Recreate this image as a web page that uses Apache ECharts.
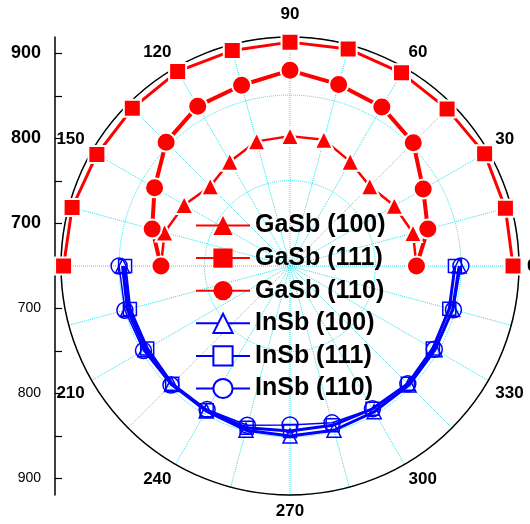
<!DOCTYPE html>
<html>
<head>
<meta charset="UTF-8">
<title>polar</title>
<script src="https://cdn.jsdelivr.net/npm/echarts@6/dist/echarts.min.js"></script>
<style>
	html, body { margin: 0; padding: 0; background: #fff; }
	#chart { width: 530px; height: 524px; }
</style>
</head>
<body>
<div id="chart"></div>
<script>
// angles (deg) and radial values
var upperAngles = [0, 15, 30, 45, 60, 75, 90, 105, 120, 135, 150, 165, 180];
var lowerAngles = [180, 195, 210, 225, 240, 255, 270, 285, 300, 315, 330, 345, 360];

var gasb100 = [798, 799, 791, 782, 791, 803, 802, 801, 791, 782, 793, 802, 801];
var gasb111 = [911, 911, 913, 910, 911, 913, 912, 911, 913, 911, 911, 914, 915];
var gasb110 = [798, 817, 830, 854, 865, 870, 879, 869, 866, 855, 833, 817, 801];

var insb100 = [846, 847, 846, 846, 846, 849, 849, 849, 847, 847, 846, 847, 848];
var insb111 = [843, 844, 843, 845, 845, 846, 843, 843, 843, 845, 843, 843, 843];
var insb110 = [850, 850, 848, 847, 844, 843, 836, 840, 843, 845, 845, 848, 850];

// left scale, mirrored about the centre (650)
var scaleCentre = 650;
var leftTicks = [700, 750, 800, 850, 900];
var leftLabels = [700, 800, 900];

var FONT = 'Liberation Sans, Arial, sans-serif';
var gridColor = '#22e0e8';

function pairs(vals, angs) {
	var out = [];
	for (var i = 0; i < vals.length; i++) out.push([vals[i], angs[i]]);
	return out;
}
function mirror(list) {
	var out = [];
	for (var i = 0; i < list.length; i++) {
		out.push(list[i] - scaleCentre);
		out.push(scaleCentre - list[i]);
	}
	return out;
}

function polarLine(name, vals, angs, symbol, size, color, width, hollow) {
	return {
		name: name,
		type: 'line',
		coordinateSystem: 'polar',
		data: pairs(vals, angs),
		symbol: symbol,
		symbolSize: size,
		showSymbol: true,
		lineStyle: { color: color, width: width },
		// white rim on filled marks gives the small gap where the line meets them
		itemStyle: hollow
			? { color: 'rgba(255,255,255,0)', borderColor: color, borderWidth: 1.5 }
			: { color: color, borderColor: '#fff', borderWidth: 2 },
		emphasis: { disabled: true }
	};
}

var chart = echarts.init(document.getElementById('chart'));
var option = {
	animation: false,
	textStyle: { fontFamily: FONT },
	polar: { center: [290, 266], radius: 229 },
	angleAxis: {
		type: 'value',
		min: 0,
		max: 360,
		interval: 15,
		startAngle: 0,
		clockwise: false,
		axisLine: { lineStyle: { color: '#000', width: 1.5 } },
		axisTick: { show: false },
		axisLabel: {
			margin: 8,
			color: '#000',
			fontSize: 17,
			fontWeight: 'bold',
			fontFamily: FONT,
			formatter: function (v) {
				if (v % 30 !== 0 || v === 180 || v === 360) return '';
				if (v === 90) return '{top|90}';
				return String(v);
			},
			rich: {
				top: { fontSize: 17, fontWeight: 'bold', fontFamily: FONT, color: '#000', padding: [0, 0, 6, 0] }
			}
		},
		splitLine: { lineStyle: { color: gridColor, type: 'dotted', width: 1 } }
	},
	radiusAxis: {
		type: 'value',
		min: 650,
		max: 918,
		interval: 100,
		axisLine: { show: false },
		axisTick: { show: false },
		axisLabel: { show: false },
		splitLine: { lineStyle: { color: gridColor, type: 'dotted', width: 1 } }
	},
	grid: { left: 55, top: 37, width: 10, height: 458 },
	xAxis: { type: 'value', show: false },
	yAxis: {
		type: 'value',
		min: -269.4,
		max: 269.4,
		axisLine: { show: true, lineStyle: { color: '#000', width: 1.5 } },
		axisTick: { show: true, inside: true, length: 7, customValues: mirror(leftTicks), lineStyle: { color: '#000', width: 1.2 } },
		splitLine: { show: false },
		axisLabel: {
			customValues: mirror(leftLabels),
			margin: 14,
			formatter: function (v) {
				return v > 0 ? '{b|' + (scaleCentre + v) + '}' : '{n|' + (scaleCentre - v) + '}';
			},
			rich: {
				b: { fontSize: 18, fontWeight: 'bold', color: '#000', fontFamily: FONT },
				n: { fontSize: 14, color: '#000', fontFamily: FONT }
			}
		}
	},
	legend: {
		left: 190,
		top: 208,
		orient: 'vertical',
		itemWidth: 54,
		itemHeight: 24,
		itemGap: 7.6,
		textStyle: { fontSize: 25, fontWeight: 'bold', color: '#000', fontFamily: FONT },
		data: [
			{ name: 'GaSb (100)', itemStyle: { borderWidth: 0 } },
			{ name: 'GaSb (111)', itemStyle: { borderWidth: 0 } },
			{ name: 'GaSb (110)', itemStyle: { borderWidth: 0 } },
			{ name: 'InSb (100)', itemStyle: { color: '#fff' } },
			{ name: 'InSb (111)', itemStyle: { color: '#fff' } },
			{ name: 'InSb (110)', itemStyle: { color: '#fff' } }
		]
	},
	series: [
		polarLine('GaSb (100)', gasb100, upperAngles, 'triangle', 18, '#ff0000', 2.5, false),
		polarLine('GaSb (111)', gasb111, upperAngles, 'rect', 17, '#ff0000', 3, false),
		polarLine('GaSb (110)', gasb110, upperAngles, 'circle', 19, '#ff0000', 4, false),
		polarLine('InSb (100)', insb100, lowerAngles, 'triangle', 14, '#0000ff', 3, true),
		polarLine('InSb (111)', insb111, lowerAngles, 'rect', 13, '#0000ff', 3, true),
		polarLine('InSb (110)', insb110, lowerAngles, 'circle', 16, '#0000ff', 1.5, true)
	]
};
chart.setOption(option);
</script>
</body>
</html>
